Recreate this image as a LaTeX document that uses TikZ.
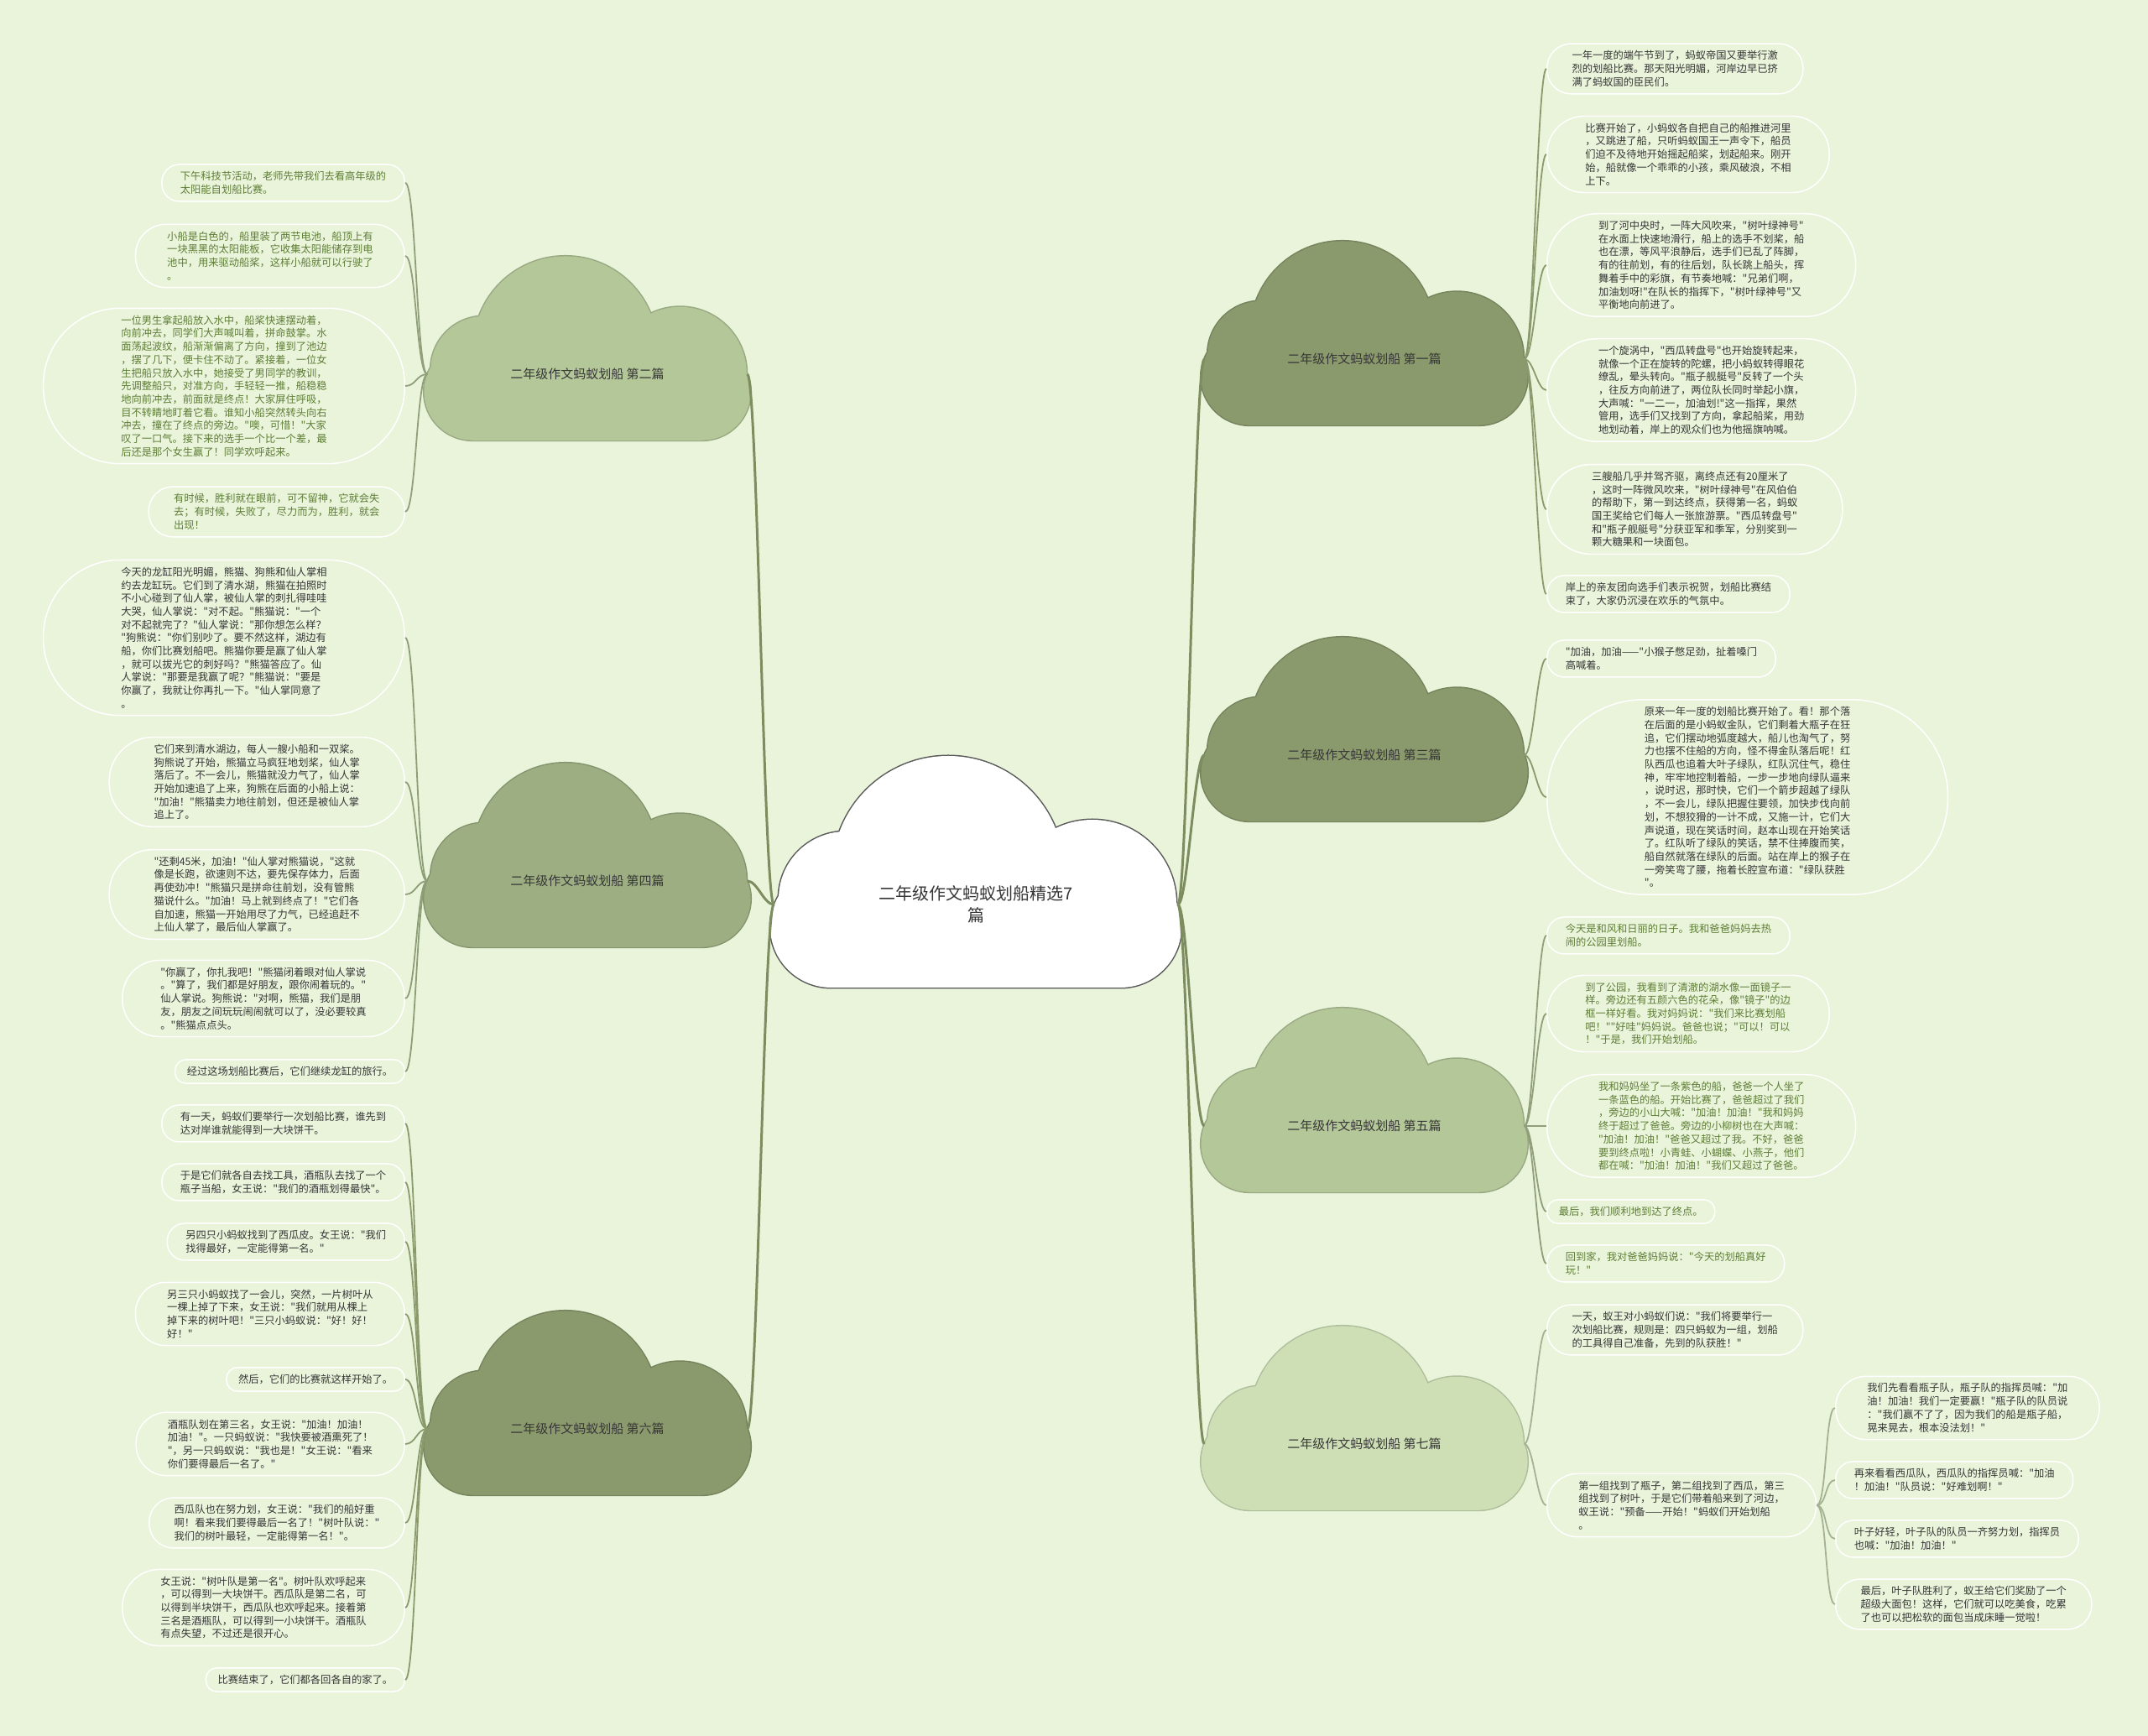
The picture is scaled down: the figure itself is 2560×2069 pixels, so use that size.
\documentclass[tikz,border=0pt]{standalone}
\usepackage{fontspec}
\newfontfamily\cjk{Noto Sans CJK SC}

\definecolor{bg}{HTML}{E9F4DB}
\definecolor{darkcloud}{HTML}{8B9A6D}
\definecolor{midcloud}{HTML}{9DAF82}
\definecolor{lightcloud}{HTML}{B4C799}
\definecolor{paleclou}{HTML}{CEDFB6}
\definecolor{txtdark}{HTML}{363636}
\definecolor{txtgreen}{HTML}{5E7D35}
\definecolor{mainline}{HTML}{7E8D60}

% cloud: #1,#2 label centre, #3 scale, #4 fill, #5 outline
\newcommand{\cloudbody}[5]{%
  \begin{scope}[shift={(#1,#2)}, scale=#3]
    \path[draw=#5, line width=0.3mm] (-172.5,-46) rectangle (172.5,99)
      (-172.5,26.5) circle[radius=72.5] (172.5,26.5) circle[radius=72.5]
      (-155,-7) circle[radius=80] (-33,-39) circle[radius=138] (139,-1) circle[radius=100];
    \fill[#4] (-172.5,-46) rectangle (172.5,99);
    \fill[#4] (-172.5,26.5) circle[radius=72.5];
    \fill[#4] (172.5,26.5) circle[radius=72.5];
    \fill[#4] (-155,-7) circle[radius=80];
    \fill[#4] (-33,-39) circle[radius=138];
    \fill[#4] (139,-1) circle[radius=100];
  \end{scope}}

\begin{document}
\begin{tikzpicture}[x=0.1mm, y=-0.1mm,
  leaf/.style={rectangle, draw=white, line width=0.15mm, fill=bg, inner ysep=0pt,
    minimum height={(#1-1)*1.57mm+2.83mm}, inner xsep={(#1-1)*0.785mm+1.415mm},
    rounded corners={(#1-1)*0.785mm+1.3mm}, align=left, text=txtdark,
    font=\cjk\fontsize{3.49pt}{4.47pt}\selectfont},
  leafg/.style={leaf=#1, text=txtgreen},
  cloudtxt/.style={inner sep=0pt, minimum width=38mm, text=txtdark, font=\cjk\fontsize{4.27pt}{5.2pt}\selectfont},
  link/.style={line width=0.18mm},
  mainlink/.style={draw=mainline, line width=0.3mm}]
\useasboundingbox (0,0) rectangle (2560,2069);
\fill[bg] (0,0) rectangle (2560,2069);

% clouds
\cloudbody{1163}{1078}{1}{white}{black!65}
\cloudbody{700}{446}{0.794}{lightcloud}{lightcloud!85!black}
\cloudbody{700}{1050}{0.794}{midcloud}{midcloud!85!black}
\cloudbody{700}{1703}{0.794}{darkcloud}{darkcloud!85!black}
\cloudbody{1626}{428}{0.794}{darkcloud}{darkcloud!85!black}
\cloudbody{1626}{900}{0.794}{darkcloud}{darkcloud!85!black}
\cloudbody{1626}{1342}{0.794}{lightcloud}{lightcloud!85!black}
\cloudbody{1626}{1721}{0.794}{paleclou}{paleclou!85!black}

\node[cloudtxt, minimum width=48mm, align=center, font=\cjk\fontsize{5.69pt}{7.4pt}\selectfont] (c0) at (1163,1078) {二年级作文蚂蚁划船精选7\\篇};
\node[cloudtxt] (c2) at (700,446) {二年级作文蚂蚁划船 第二篇};
\node[cloudtxt] (c4) at (700,1050) {二年级作文蚂蚁划船 第四篇};
\node[cloudtxt] (c6) at (700,1703) {二年级作文蚂蚁划船 第六篇};
\node[cloudtxt] (c1) at (1626,428) {二年级作文蚂蚁划船 第一篇};
\node[cloudtxt] (c3) at (1626,900) {二年级作文蚂蚁划船 第三篇};
\node[cloudtxt] (c5) at (1626,1342) {二年级作文蚂蚁划船 第五篇};
\node[cloudtxt] (c7) at (1626,1721) {二年级作文蚂蚁划船 第七篇};

% left leaves
\node[leafg=2, anchor=east] (l2a) at (483,218) {下午科技节活动，老师先带我们去看高年级的\\太阳能自划船比赛。};
\node[leafg=4, anchor=east] (l2b) at (483,305) {小船是白色的，船里装了两节电池，船顶上有\\一块黑黑的太阳能板，它收集太阳能储存到电\\池中，用来驱动船桨，这样小船就可以行驶了\\。};
\node[leafg=11, anchor=east] (l2c) at (483,460) {一位男生拿起船放入水中，船桨快速摆动着，\\向前冲去，同学们大声喊叫着，拼命鼓掌。水\\面荡起波纹，船渐渐偏离了方向，撞到了池边\\，摆了几下，便卡住不动了。紧接着，一位女\\生把船只放入水中，她接受了男同学的教训，\\先调整船只，对准方向，手轻轻一推，船稳稳\\地向前冲去，前面就是终点！大家屏住呼吸，\\目不转睛地盯着它看。谁知小船突然转头向右\\冲去，撞在了终点的旁边。"噢，可惜！"大家\\叹了一口气。接下来的选手一个比一个差，最\\后还是那个女生赢了！同学欢呼起来。};
\node[leafg=3, anchor=east] (l2d) at (483,610) {有时候，胜利就在眼前，可不留神，它就会失\\去；有时候，失败了，尽力而为，胜利，就会\\出现！};
\node[leaf=11, anchor=east] (l4a) at (483,760) {今天的龙缸阳光明媚，熊猫、狗熊和仙人掌相\\约去龙缸玩。它们到了清水湖，熊猫在拍照时\\不小心碰到了仙人掌，被仙人掌的刺扎得哇哇\\大哭，仙人掌说："对不起。"熊猫说："一个\\对不起就完了？"仙人掌说："那你想怎么样？\\"狗熊说："你们别吵了。要不然这样，湖边有\\船，你们比赛划船吧。熊猫你要是赢了仙人掌\\，就可以拔光它的刺好吗？"熊猫答应了。仙\\人掌说："那要是我赢了呢？"熊猫说："要是\\你赢了，我就让你再扎一下。"仙人掌同意了\\。};
\node[leaf=6, anchor=east] (l4b) at (483,932) {它们来到清水湖边，每人一艘小船和一双桨。\\狗熊说了开始，熊猫立马疯狂地划桨，仙人掌\\落后了。不一会儿，熊猫就没力气了，仙人掌\\开始加速追了上来，狗熊在后面的小船上说：\\"加油！"熊猫卖力地往前划，但还是被仙人掌\\追上了。};
\node[leaf=6, anchor=east] (l4c) at (483,1066) {"还剩45米，加油！"仙人掌对熊猫说，"这就\\像是长跑，欲速则不达，要先保存体力，后面\\再使劲冲！"熊猫只是拼命往前划，没有管熊\\猫说什么。"加油！马上就到终点了！"它们各\\自加速，熊猫一开始用尽了力气，已经追赶不\\上仙人掌了，最后仙人掌赢了。};
\node[leaf=5, anchor=east] (l4d) at (483,1190) {"你赢了，你扎我吧！"熊猫闭着眼对仙人掌说\\。"算了，我们都是好朋友，跟你闹着玩的。"\\仙人掌说。狗熊说："对啊，熊猫，我们是朋\\友，朋友之间玩玩闹闹就可以了，没必要较真\\。"熊猫点点头。};
\node[leaf=1, anchor=east] (l4e) at (483,1277) {经过这场划船比赛后，它们继续龙缸的旅行。};
\node[leaf=2, anchor=east] (l6a) at (483,1339) {有一天，蚂蚁们要举行一次划船比赛，谁先到\\达对岸谁就能得到一大块饼干。};
\node[leaf=2, anchor=east] (l6b) at (483,1409) {于是它们就各自去找工具，酒瓶队去找了一个\\瓶子当船，女王说："我们的酒瓶划得最快"。};
\node[leaf=2, anchor=east] (l6c) at (483,1480) {另四只小蚂蚁找到了西瓜皮。女王说："我们\\找得最好，一定能得第一名。"};
\node[leaf=4, anchor=east] (l6d) at (483,1566) {另三只小蚂蚁找了一会儿，突然，一片树叶从\\一棵上掉了下来，女王说："我们就用从棵上\\掉下来的树叶吧！"三只小蚂蚁说："好！好！\\好！"};
\node[leaf=1, anchor=east] (l6e) at (483,1644) {然后，它们的比赛就这样开始了。};
\node[leaf=4, anchor=east] (l6f) at (483,1721) {酒瓶队划在第三名，女王说："加油！加油！\\加油！"。一只蚂蚁说："我快要被酒熏死了！\\"，另一只蚂蚁说："我也是！"女王说："看来\\你们要得最后一名了。"};
\node[leaf=3, anchor=east] (l6g) at (483,1815) {西瓜队也在努力划，女王说："我们的船好重\\啊！看来我们要得最后一名了！"树叶队说："\\我们的树叶最轻，一定能得第一名！"。};
\node[leaf=5, anchor=east] (l6h) at (483,1916) {女王说："树叶队是第一名"。树叶队欢呼起来\\，可以得到一大块饼干。西瓜队是第二名，可\\以得到半块饼干，西瓜队也欢呼起来。接着第\\三名是酒瓶队，可以得到一小块饼干。酒瓶队\\有点失望，不过还是很开心。};
\node[leaf=1, anchor=east] (l6i) at (483,2002) {比赛结束了，它们都各回各自的家了。};

% right leaves
\node[leaf=3, anchor=west] (r1a) at (1843,82) {一年一度的端午节到了，蚂蚁帝国又要举行激\\烈的划船比赛。那天阳光明媚，河岸边早已挤\\满了蚂蚁国的臣民们。};
\node[leaf=5, anchor=west] (r1b) at (1843,184) {比赛开始了，小蚂蚁各自把自己的船推进河里\\，又跳进了船，只听蚂蚁国王一声令下，船员\\们迫不及待地开始摇起船桨，划起船来。刚开\\始，船就像一个乖乖的小孩，乘风破浪，不相\\上下。};
\node[leaf=7, anchor=west] (r1c) at (1843,316) {到了河中央时，一阵大风吹来，"树叶绿神号"\\在水面上快速地滑行，船上的选手不划桨，船\\也在漂，等风平浪静后，选手们已乱了阵脚，\\有的往前划，有的往后划，队长跳上船头，挥\\舞着手中的彩旗，有节奏地喊："兄弟们啊，\\加油划呀!"在队长的指挥下，"树叶绿神号"又\\平衡地向前进了。};
\node[leaf=7, anchor=west] (r1d) at (1843,465) {一个旋涡中，"西瓜转盘号"也开始旋转起来，\\就像一个正在旋转的陀螺，把小蚂蚁转得眼花\\缭乱，晕头转向。"瓶子舰艇号"反转了一个头\\，往反方向前进了，两位队长同时举起小旗，\\大声喊："一二一，加油划!"这一指挥，果然\\管用，选手们又找到了方向，拿起船桨，用劲\\地划动着，岸上的观众们也为他摇旗呐喊。};
\node[leaf=6, anchor=west] (r1e) at (1843,607) {三艘船几乎并驾齐驱，离终点还有20厘米了\\，这时一阵微风吹来，"树叶绿神号"在风伯伯\\的帮助下，第一到达终点，获得第一名，蚂蚁\\国王奖给它们每人一张旅游票。"西瓜转盘号"\\和"瓶子舰艇号"分获亚军和季军，分别奖到一\\颗大糖果和一块面包。};
\node[leaf=2, anchor=west] (r1f) at (1843,708) {岸上的亲友团向选手们表示祝贺，划船比赛结\\束了，大家仍沉浸在欢乐的气氛中。};
\node[leaf=2, anchor=west] (r3a) at (1843,785) {"加油，加油——"小猴子憋足劲，扯着嗓门\\高喊着。};
\node[leaf=14, anchor=west] (r3b) at (1843,950) {原来一年一度的划船比赛开始了。看！那个落\\在后面的是小蚂蚁金队，它们剩着大瓶子在狂\\追，它们摆动地弧度越大，船儿也淘气了，努\\力也摆不住船的方向，怪不得金队落后呢！红\\队西瓜也追着大叶子绿队，红队沉住气，稳住\\神，牢牢地控制着船，一步一步地向绿队逼来\\，说时迟，那时快，它们一个箭步超越了绿队\\，不一会儿，绿队把握住要领，加快步伐向前\\划，不想狡猾的一计不成，又施一计，它们大\\声说道，现在笑话时间，赵本山现在开始笑话\\了。红队听了绿队的笑话，禁不住捧腹而笑，\\船自然就落在绿队的后面。站在岸上的猴子在\\一旁笑弯了腰，拖着长腔宣布道："绿队获胜\\"。};
\node[leafg=2, anchor=west] (r5a) at (1843,1115) {今天是和风和日丽的日子。我和爸爸妈妈去热\\闹的公园里划船。};
\node[leafg=5, anchor=west] (r5b) at (1843,1208) {到了公园，我看到了清澈的湖水像一面镜子一\\样。旁边还有五颜六色的花朵，像"镜子"的边\\框一样好看。我对妈妈说："我们来比赛划船\\吧！""好哇"妈妈说。爸爸也说；"可以！可以\\！"于是，我们开始划船。};
\node[leafg=7, anchor=west] (r5c) at (1843,1342) {我和妈妈坐了一条紫色的船，爸爸一个人坐了\\一条蓝色的船。开始比赛了，爸爸超过了我们\\，旁边的小山大喊："加油！加油！"我和妈妈\\终于超过了爸爸。旁边的小柳树也在大声喊：\\"加油！加油！"爸爸又超过了我。不好，爸爸\\要到终点啦！小青蛙、小蝴蝶、小燕子，他们\\都在喊："加油！加油！"我们又超过了爸爸。};
\node[leafg=1, anchor=west] (r5d) at (1843,1444) {最后，我们顺利地到达了终点。};
\node[leafg=2, anchor=west] (r5e) at (1843,1506) {回到家，我对爸爸妈妈说："今天的划船真好\\玩！"};
\node[leaf=3, anchor=west] (r7a) at (1843,1585) {一天，蚁王对小蚂蚁们说："我们将要举行一\\次划船比赛，规则是：四只蚂蚁为一组，划船\\的工具得自己准备，先到的队获胜！"};
\node[leaf=4, anchor=west] (r7b) at (1843,1794) {第一组找到了瓶子，第二组找到了西瓜，第三\\组找到了树叶，于是它们带着船来到了河边，\\蚁王说："预备——开始！"蚂蚁们开始划船\\。};
\node[leaf=4, anchor=west] (r7b1) at (2187,1678) {我们先看看瓶子队，瓶子队的指挥员喊："加\\油！加油！我们一定要赢！"瓶子队的队员说\\："我们赢不了了，因为我们的船是瓶子船，\\晃来晃去，根本没法划！"};
\node[leaf=2, anchor=west] (r7b2) at (2187,1764) {再来看看西瓜队，西瓜队的指挥员喊："加油\\！加油！"队员说："好难划啊！"};
\node[leaf=2, anchor=west] (r7b3) at (2187,1834) {叶子好轻，叶子队的队员一齐努力划，指挥员\\也喊："加油！加油！"};
\node[leaf=3, anchor=west] (r7b4) at (2187,1912) {最后，叶子队胜利了，蚁王给它们奖励了一个\\超级大面包！这样，它们就可以吃美食，吃累\\了也可以把松软的面包当成床睡一觉啦！};

% connectors
\foreach \c in {c2,c4,c6}
  \draw[mainlink] (c0.west) .. controls +(-12,0) and +(12,0) .. (\c.east);
\foreach \c in {c1,c3,c5,c7}
  \draw[mainlink] (c0.east) .. controls +(12,0) and +(-12,0) .. (\c.west);
\foreach \n in {l2a,l2b,l2c,l2d}
  \draw[link, draw=lightcloud!80!black] (c2.west) .. controls +(-13,0) and +(13,0) .. (\n.east);
\foreach \n in {l4a,l4b,l4c,l4d,l4e}
  \draw[link, draw=midcloud!90!black] (c4.west) .. controls +(-13,0) and +(13,0) .. (\n.east);
\foreach \n in {l6a,l6b,l6c,l6d,l6e,l6f,l6g,l6h,l6i}
  \draw[link, draw=darkcloud] (c6.west) .. controls +(-13,0) and +(13,0) .. (\n.east);
\foreach \n in {r1a,r1b,r1c,r1d,r1e,r1f}
  \draw[link, draw=darkcloud] (c1.east) .. controls +(11,0) and +(-11,0) .. (\n.west);
\foreach \n in {r3a,r3b}
  \draw[link, draw=darkcloud] (c3.east) .. controls +(11,0) and +(-11,0) .. (\n.west);
\foreach \n in {r5a,r5b,r5c,r5d,r5e}
  \draw[link, draw=lightcloud!80!black] (c5.east) .. controls +(11,0) and +(-11,0) .. (\n.west);
\foreach \n in {r7a,r7b}
  \draw[link, draw=paleclou!80!black] (c7.east) .. controls +(11,0) and +(-11,0) .. (\n.west);
\foreach \n in {r7b1,r7b2,r7b3,r7b4}
  \draw[link, draw=paleclou!80!black] (r7b.east) .. controls +(12,0) and +(-12,0) .. (\n.west);
\end{tikzpicture}
\end{document}
